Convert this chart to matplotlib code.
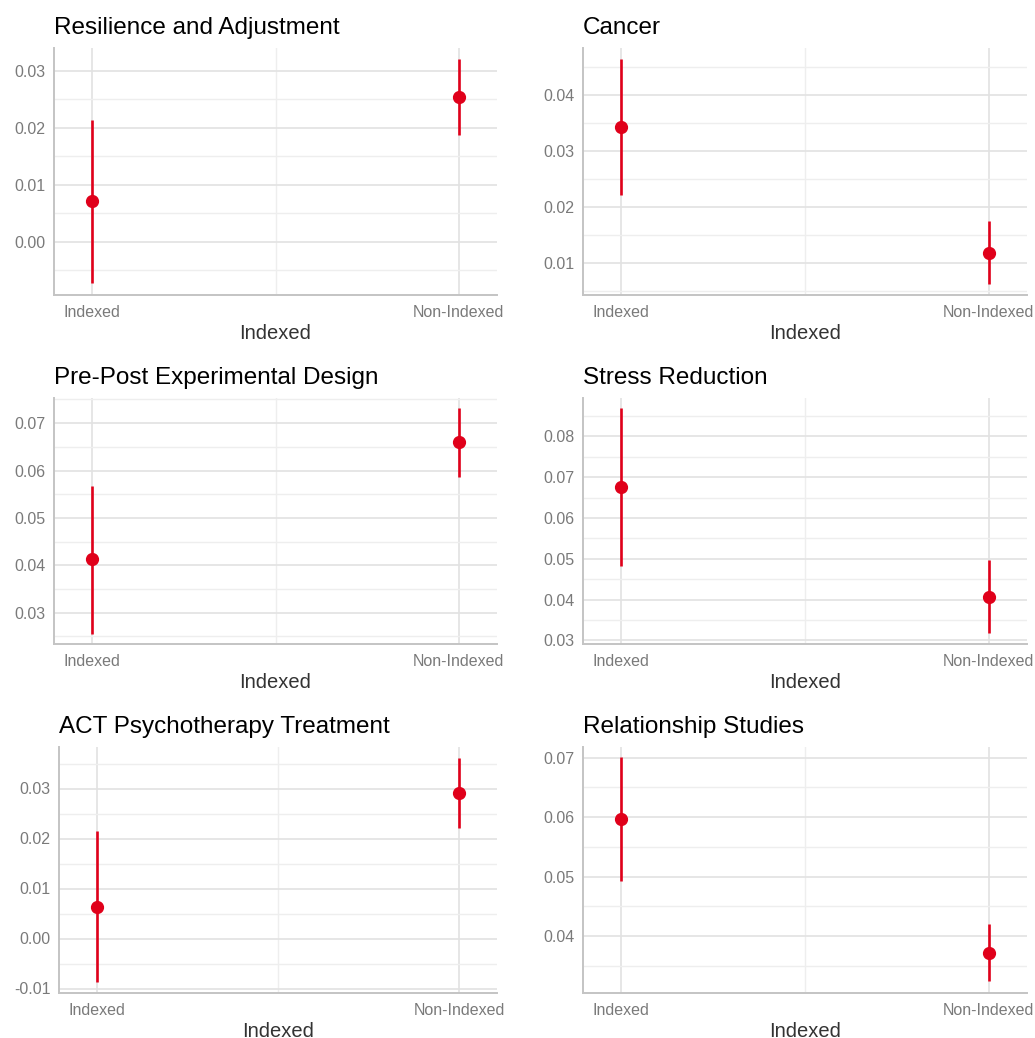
import numpy as np
import matplotlib
matplotlib.use("Agg")
import matplotlib.pyplot as plt
from matplotlib.ticker import MultipleLocator

plt.rcParams["font.family"] = ["Liberation Sans", "DejaVu Sans"]

groups = ["Indexed", "Non-Indexed"]
titles = ["Resilience and Adjustment", "Cancer",
          "Pre-Post Experimental Design", "Stress Reduction",
          "ACT Psychotherapy Treatment", "Relationship Studies"]

# point estimate and interval per panel: [Indexed, Non-Indexed]
est = [[0.0072, 0.0254], [0.0343, 0.0118],
       [0.0413, 0.0660], [0.0675, 0.0407],
       [0.0064, 0.0292], [0.0597, 0.0372]]
lo = [[-0.0072, 0.0188], [0.0221, 0.0063],
      [0.0256, 0.0587], [0.0481, 0.0317],
      [-0.0086, 0.0222], [0.0493, 0.0325]]
hi = [[0.0214, 0.0321], [0.0464, 0.0175],
      [0.0568, 0.0732], [0.0870, 0.0498],
      [0.0215, 0.0362], [0.0701, 0.0420]]
ylims = [(-0.0093, 0.0340), (0.0043, 0.0484),
         (0.0234, 0.0753), (0.0291, 0.0894),
         (-0.0109, 0.0383), (0.0304, 0.0718)]

W, H = 1035, 1038
# axes boxes in pixels: left, top, right, bottom
boxes = [(54, 48, 497, 295), (583, 48, 1027, 295),
         (54, 398, 497, 644), (583, 398, 1027, 644),
         (59, 747, 497, 993), (583, 747, 1027, 993)]

red = "#E0001A"
fig = plt.figure(figsize=(W / 100, H / 100), dpi=100)

for i in range(6):
    l, t, r, b = boxes[i]
    ax = fig.add_axes([l / W, 1 - b / H, (r - l) / W, (b - t) / H])
    x = np.arange(len(groups))
    ax.vlines(x, lo[i], hi[i], color=red, lw=1.9, zorder=3)
    ax.plot(x, est[i], "o", color=red, ms=8.5, zorder=4)
    ax.set_xlim(-0.104, 1.104)
    ax.set_ylim(*ylims[i])
    ax.set_xticks(x)
    ax.set_xticklabels(groups)
    ax.xaxis.set_minor_locator(MultipleLocator(0.5))
    ax.yaxis.set_major_locator(MultipleLocator(0.01))
    ax.yaxis.set_minor_locator(MultipleLocator(0.005))
    ax.yaxis.set_major_formatter(plt.FuncFormatter(lambda v, p: f"{v:.2f}"))
    ax.grid(True, which="major", color="#e2e2e2", lw=1.2, zorder=0)
    ax.grid(True, which="minor", color="#eeeeee", lw=1.0, zorder=0)
    ax.set_axisbelow(True)
    for s in ["top", "right"]:
        ax.spines[s].set_visible(False)
    for s in ["left", "bottom"]:
        ax.spines[s].set_color("#c4c4c4")
        ax.spines[s].set_linewidth(1.4)
    ax.tick_params(which="both", length=0, labelcolor="#7a7a7a", labelsize=11.5)
    ax.tick_params(axis="x", pad=7)
    ax.tick_params(axis="y", pad=6)
    ax.set_xlabel("Indexed", fontsize=14.5, color="#333333", labelpad=3)
    ax.set_title(titles[i], loc="left", fontsize=17.5, color="black", pad=10)

fig.savefig("out.png", dpi=100)
